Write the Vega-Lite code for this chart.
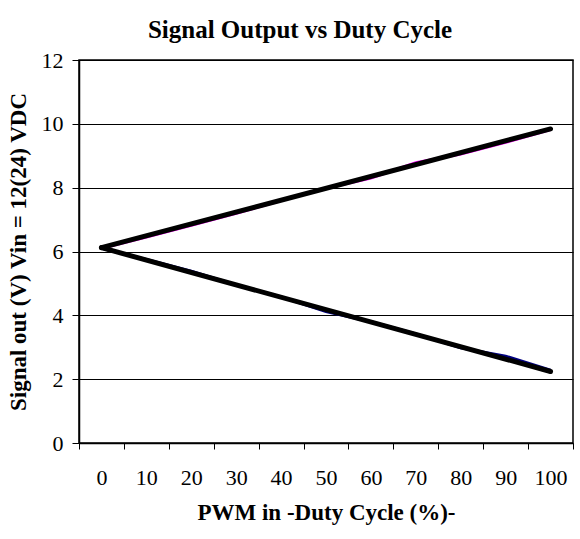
{
  "$schema": "https://vega.github.io/schema/vega-lite/v6.json",
  "autosize": {"type": "none"},
  "padding": {"left": 79, "top": 60, "right": 7, "bottom": 96},
  "width": 494,
  "height": 383,
  "background": "white",
  "config": {
    "font": "Liberation Serif",
    "view": {"stroke": "black", "strokeWidth": 1.5}
  },
  "title": {
    "text": "Signal Output vs Duty Cycle",
    "font": "Liberation Serif",
    "fontSize": 25,
    "fontWeight": "bold",
    "color": "black",
    "anchor": "middle",
    "dx": -26,
    "offset": 6
  },
  "data": {
    "values": [
      {"duty": 0, "v": 6.1, "s": "up"},
      {"duty": 10, "v": 6.45, "s": "up"},
      {"duty": 20, "v": 6.82, "s": "up"},
      {"duty": 30, "v": 7.2, "s": "up"},
      {"duty": 40, "v": 7.6, "s": "up"},
      {"duty": 50, "v": 7.98, "s": "up"},
      {"duty": 60, "v": 8.3, "s": "up"},
      {"duty": 70, "v": 8.78, "s": "up"},
      {"duty": 80, "v": 9.05, "s": "up"},
      {"duty": 90, "v": 9.42, "s": "up"},
      {"duty": 100, "v": 9.82, "s": "up"},
      {"duty": 0, "v": 6.1, "s": "down"},
      {"duty": 10, "v": 5.75, "s": "down"},
      {"duty": 20, "v": 5.38, "s": "down"},
      {"duty": 30, "v": 4.95, "s": "down"},
      {"duty": 40, "v": 4.58, "s": "down"},
      {"duty": 50, "v": 4.12, "s": "down"},
      {"duty": 60, "v": 3.8, "s": "down"},
      {"duty": 70, "v": 3.42, "s": "down"},
      {"duty": 80, "v": 2.98, "s": "down"},
      {"duty": 90, "v": 2.72, "s": "down"},
      {"duty": 100, "v": 2.28, "s": "down"},
      {"duty": 0, "v": 6.12, "s": "trend up"},
      {"duty": 100, "v": 9.84, "s": "trend up"},
      {"duty": 0, "v": 6.12, "s": "trend down"},
      {"duty": 100, "v": 2.24, "s": "trend down"}
    ]
  },
  "encoding": {
    "x": {
      "field": "duty",
      "type": "ordinal",
      "scale": {"type": "band", "domain": [0,10,20,30,40,50,60,70,80,90,100], "paddingInner": 0, "paddingOuter": 0},
      "axis": {
        "title": "PWM in -Duty Cycle (%)-",
        "titleFont": "Liberation Serif",
        "titleFontSize": 23,
        "titleFontWeight": "bold",
        "titleColor": "black",
        "titlePadding": 13,
        "labelAngle": 0,
        "labelFont": "Liberation Serif",
        "labelFontSize": 22,
        "labelColor": "black",
        "labelPadding": 18,
        "domainColor": "black",
        "domainWidth": 1.5,
        "tickColor": "black",
        "tickSize": 6,
        "tickBand": "extent",
        "grid": false
      }
    },
    "y": {
      "field": "v",
      "type": "quantitative",
      "scale": {"domain": [0, 12], "nice": false},
      "axis": {
        "title": "Signal out (V) Vin = 12(24) VDC",
        "titleFont": "Liberation Serif",
        "titleFontSize": 23,
        "titleFontWeight": "bold",
        "titleColor": "black",
        "titlePadding": 11,
        "values": [0,2,4,6,8,10,12],
        "labelFont": "Liberation Serif",
        "labelFontSize": 22,
        "labelColor": "black",
        "labelPadding": 9,
        "domainColor": "black",
        "domainWidth": 1.5,
        "tickColor": "black",
        "tickSize": 7,
        "grid": true,
        "gridColor": "black",
        "gridWidth": 1
      }
    }
  },
  "layer": [
    {
      "transform": [{"filter": "datum.s == 'up' || datum.s == 'down'"}],
      "mark": {"type": "line", "strokeWidth": 3},
      "encoding": {
        "detail": {"field": "s"},
        "color": {
          "field": "s",
          "type": "nominal",
          "scale": {"domain": ["up", "down"], "range": ["#ff00ff", "#000080"]},
          "legend": null
        }
      }
    },
    {
      "transform": [{"filter": "datum.s == 'trend up' || datum.s == 'trend down'"}],
      "mark": {"type": "line", "strokeWidth": 5, "color": "black", "strokeCap": "round"},
      "encoding": {"detail": {"field": "s"}}
    }
  ]
}
